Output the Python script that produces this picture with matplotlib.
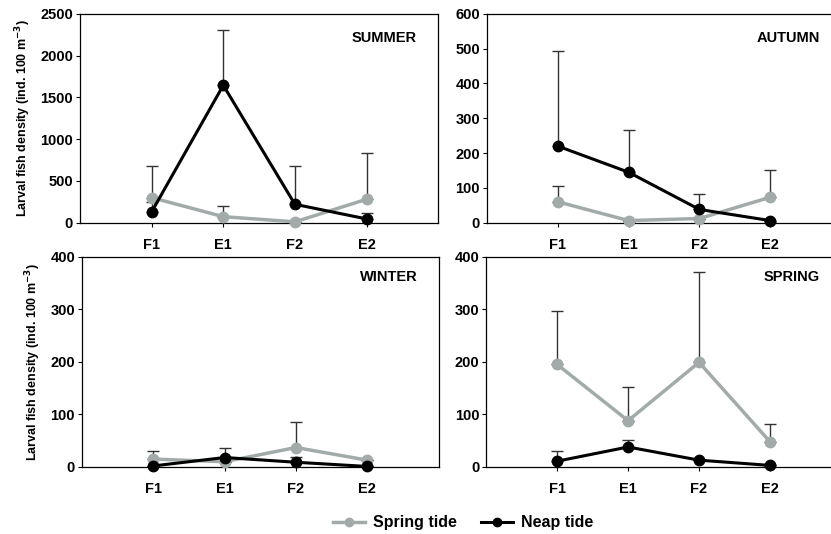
import matplotlib.pyplot as plt

plt.rcParams['font.family'] = ['Liberation Sans', 'DejaVu Sans']
plt.rcParams['font.weight'] = 'bold'

# Sites along the x axis
sites = ['F1', 'E1', 'F2', 'E2']

# Mean larval fish density and upper error (value at top of error bar), per season
summer_spring = [300, 72, 10, 280]
summer_spring_top = [680, 200, 10, 830]
summer_neap = [130, 1645, 220, 45]
summer_neap_top = [250, 2310, 680, 110]

autumn_spring = [60, 6, 12, 73]
autumn_spring_top = [106, 6, 12, 150]
autumn_neap = [220, 145, 38, 6]
autumn_neap_top = [494, 266, 81, 6]

winter_spring = [15, 10, 37, 13]
winter_spring_top = [31, 10, 86, 13]
winter_neap = [2, 18, 9, 1]
winter_neap_top = [2, 36, 19, 1]

spring_spring = [195, 88, 199, 48]
spring_spring_top = [297, 153, 371, 82]
spring_neap = [11, 38, 13, 3]
spring_neap_top = [31, 52, 13, 3]

panels = [
    ('SUMMER', summer_spring, summer_spring_top, summer_neap, summer_neap_top, 2500, 500),
    ('AUTUMN', autumn_spring, autumn_spring_top, autumn_neap, autumn_neap_top, 600, 100),
    ('WINTER', winter_spring, winter_spring_top, winter_neap, winter_neap_top, 400, 100),
    ('SPRING', spring_spring, spring_spring_top, spring_neap, spring_neap_top, 400, 100),
]

# axes rectangles [left, bottom, width, height] in figure fraction
rects = [
    [0.0963, 0.583, 0.431, 0.391],
    [0.586, 0.583, 0.426, 0.391],
    [0.0987, 0.1255, 0.429, 0.394],
    [0.585, 0.1255, 0.427, 0.394],
]

gray = '#a2abaa'
pos = [1, 2, 3, 4]

fig = plt.figure(figsize=(8.31, 5.34), dpi=100)

for i, (name, sp, sp_top, ne, ne_top, ymax, step) in enumerate(panels):
    ax = fig.add_axes(rects[i])
    # upper-only error bars
    sp_err = [[0] * 4, [t - v for t, v in zip(sp_top, sp)]]
    ne_err = [[0] * 4, [t - v for t, v in zip(ne_top, ne)]]
    ax.errorbar(pos, sp, yerr=sp_err, fmt='none', ecolor='#333333', elinewidth=1,
                capsize=4, capthick=1, zorder=1)
    ax.errorbar(pos, ne, yerr=ne_err, fmt='none', ecolor='#333333', elinewidth=1,
                capsize=4, capthick=1, zorder=1)
    ax.plot(pos, sp, color=gray, lw=2.5, marker='o', ms=7.5, label='Spring tide',
            zorder=3, clip_on=False)
    ax.plot(pos, ne, color='black', lw=2.2, marker='o', ms=7.5, label='Neap tide',
            zorder=4, clip_on=False)

    ax.set_xlim(0, 5)
    ax.set_ylim(0, ymax)
    ax.set_xticks(pos)
    ax.set_xticklabels(sites)
    ax.set_yticks(range(0, ymax + 1, step))
    ax.tick_params(direction='out', length=3, width=0.8, labelsize=10.5, pad=2)
    ax.tick_params(axis='x', pad=8)
    for s in ax.spines.values():
        s.set_linewidth(0.9)
    ax.text(0.94, 0.885 if i < 2 else 0.905, name, transform=ax.transAxes,
            ha='right', va='center', fontsize=10.5, fontweight='bold')
    if i % 2 == 0:
        ax.set_ylabel('Larval fish density (ind. 100 m$^{\\mathbf{-3}}$)', fontsize=9,
                      fontweight='bold', labelpad=5)

handles, labels = fig.axes[0].get_legend_handles_labels()
fig.legend(handles, labels, loc='center', bbox_to_anchor=(0.557, 0.021), ncol=2,
           frameon=False, fontsize=11.5, handlelength=2.0, handletextpad=0.5,
           columnspacing=1.5, markerscale=0.8)

fig.savefig('out.png', dpi=100)
